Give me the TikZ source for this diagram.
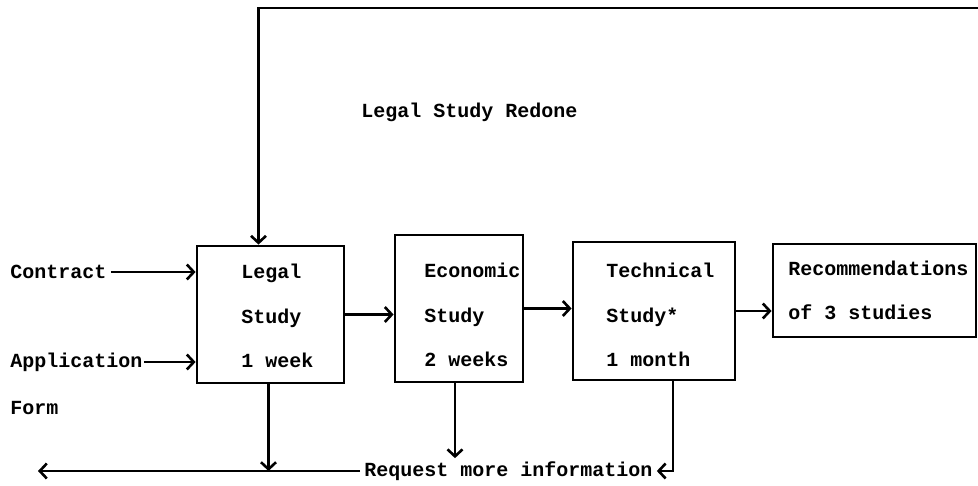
\documentclass[tikz,border=0pt]{standalone}
\usepackage{fontspec}
\setmonofont{Liberation Mono}
\usetikzlibrary{arrows.meta}
\begin{document}
\begin{tikzpicture}[x=1pt, y=-1pt, line width=2.8pt,
  box/.style={draw, line width=2.8pt, inner sep=0pt},
  lbl/.style={font=\ttfamily\bfseries\fontsize{20}{44.5}\selectfont,
              align=left, inner sep=0pt, anchor=west},
  barb/.style={-{Straight Barb[length=7pt,width=15pt,line width=2.6pt]}}]
\useasboundingbox (0,0) rectangle (978,485);

% study boxes
\node[box, minimum width=147pt, minimum height=137pt] (legal) at (270.5,314.5) {};
\node[box, minimum width=128pt, minimum height=147pt] (econ)  at (459,308.5) {};
\node[box, minimum width=162pt, minimum height=138pt] (tech)  at (654,311) {};
\node[box, minimum width=203pt, minimum height=93pt]  (reco)  at (874.5,290.5) {};

% box texts
\node[lbl] (legalt) at (240,316) {Legal\\Study\\1 week};
\node[lbl] (econt)  at (423,315) {Economic\\Study\\2 weeks};
\node[lbl] (techt)  at (605,315) {Technical\\Study*\\1 month};
\node[lbl] (recot)  at (787,290.5) {Recommendations\\of 3 studies};

% inputs
\node[lbl] (contract) at (9,272) {Contract};
\node[lbl] (app)      at (9,362) {Application};
\node[lbl] (form)     at (9,408) {Form};
\node[lbl] (redone)   at (360,112) {Legal Study Redone};
\node[lbl, inner xsep=3pt, inner ysep=2pt] (req) at (360,471) {Request more information};

\coordinate (leftend)  at (38,471);
\coordinate (topright) at (980,8);

% flow arrows
\draw[barb] ([xshift=3pt]contract.east) -- (contract.east -| legal.west);
\draw[barb] (app.east) -- (app.east -| legal.west);
\draw[barb] (legal.east) -- (legal.east -| econ.west);
\draw[barb] (econ.east) -- (econ.east -| tech.west);
\draw[barb] (tech.east) -- (tech.east -| reco.west);

% feedback paths
\draw[barb] (topright) -| ([xshift=-12pt]legal.north);
\draw[barb] (req.west) -- (leftend);
\draw[barb] ([xshift=-2pt]legal.south) -- ([xshift=-2pt]legal.south |- req.west);
\draw[barb] ([xshift=-4pt]econ.south) -- ([xshift=-4pt]econ.south |- req.north);
\draw[barb] ([xshift=19pt]tech.south) |- (req.east);
\end{tikzpicture}
\end{document}
